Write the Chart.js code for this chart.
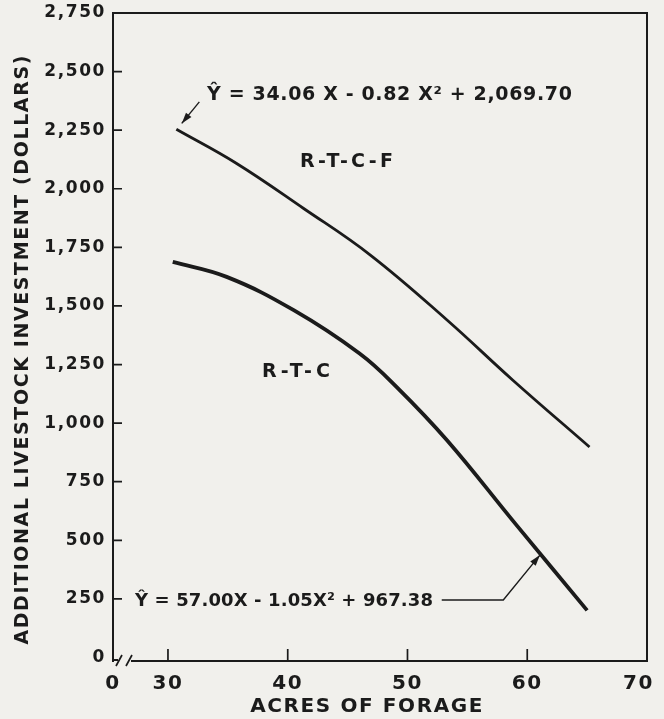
<!DOCTYPE html>
<html><head><meta charset="utf-8">
<script src="https://cdn.jsdelivr.net/npm/chart.js@4.4.1/dist/chart.umd.min.js"></script>
<style>html,body{margin:0;padding:0;background:#f1f0ec;overflow:hidden}canvas{display:block}</style>
</head><body>
<canvas id="c" width="664" height="719"></canvas>
<script>
// ---- data ----
const xTickValues = [30, 40, 50, 60, 70];
const xTickLabels = ["0", "30", "40", "50", "60", "70"];
const yTickValues = [0, 250, 500, 750, 1000, 1250, 1500, 1750, 2000, 2250, 2500, 2750];
const yTickLabels = ["0", "250", "500", "750", "1,000", "1,250", "1,500", "1,750", "2,000", "2,250", "2,500", "2,750"];
const rtcfAcres = [30.7, 35.7, 41.3, 46.9, 53.3, 58.8, 65.2];
const rtcfInvestment = [2254, 2109, 1917, 1717, 1440, 1183, 898];
const rtcAcres = [30.4, 34.9, 40.5, 46.0, 49.1, 53.3, 59.0, 65.0];
const rtcInvestment = [1688, 1624, 1482, 1297, 1154, 927, 571, 201];
const seriesNames = ["R-T-C-F", "R-T-C"];
const equations = ["Ŷ = 34.06 X - 0.82 X² + 2,069.70", "Ŷ = 57.00X - 1.05X² + 967.38"];
const xTitle = "ACRES OF FORAGE";
const yTitle = "ADDITIONAL LIVESTOCK INVESTMENT (DOLLARS)";

// ---- styling ----
const INK = '#1b1b1b';
const PAPER = '#f1f0ec';
const FONT = '"DejaVu Sans", sans-serif';

// annotation anchors in data units: x0..x1 = text span (acres), y = text centre (dollars)
const notes = {
  upperEq: {x0: 33.26, x1: 63.74, y: 2398, size: 19},
  upperLabel: {x0: 41.03, x1: 48.79, y: 2114, size: 19},
  lowerLabel: {x0: 37.85, x1: 43.53, y: 1218, size: 19},
  lowerEq: {x0: 27.25, x1: 52.13, y: 241, size: 18},
  upperArrow: [{x: 32.62, y: 2371}, {x: 31.15, y: 2279}],
  lowerArrow: [{x: 52.86, y: 245}, {x: 58.0, y: 245}, {x: 61.06, y: 437}]
};

const toPts = (xs, ys) => xs.map((v, i) => ({x: v, y: ys[i]}));

const paperPlugin = {
  id: 'paper',
  beforeDraw(chart) {
    const ctx = chart.ctx;
    ctx.save();
    ctx.fillStyle = PAPER;
    ctx.fillRect(0, 0, chart.width, chart.height);
    ctx.restore();
    ctx.letterSpacing = '1.6px';
  },
  beforeDatasetsDraw(chart) {
    const {ctx, chartArea: a, scales: {x, y}} = chart;
    ctx.letterSpacing = '0px';
    ctx.save();
    ctx.strokeStyle = INK;
    ctx.lineWidth = 2;
    ctx.lineCap = 'square';
    ctx.beginPath();
    ctx.moveTo(a.left, a.top); ctx.lineTo(a.right, a.top); ctx.lineTo(a.right, a.bottom);
    ctx.lineTo(a.left + 19, a.bottom);
    ctx.moveTo(a.left, a.bottom - 1); ctx.lineTo(a.left + 4, a.bottom - 1);
    ctx.stroke();
    ctx.lineCap = 'butt';
    ctx.lineWidth = 1.7;
    ctx.beginPath();
    ctx.moveTo(a.left + 3, a.bottom + 5); ctx.lineTo(a.left + 9, a.bottom - 6);
    ctx.moveTo(a.left + 13, a.bottom + 5); ctx.lineTo(a.left + 19, a.bottom - 6);
    yTickValues.forEach(v => {
      if (v > yTickValues[0] && v < y.max) {
        const py = y.getPixelForValue(v);
        ctx.moveTo(a.left, py); ctx.lineTo(a.left + 9, py);
      }
    });
    xTickValues.forEach(v => {
      if (v < x.max) {
        const px = x.getPixelForValue(v);
        ctx.moveTo(px, a.bottom); ctx.lineTo(px, a.bottom - 12);
      }
    });
    ctx.stroke();
    ctx.restore();
  },
  afterDatasetsDraw(chart) {
    const {ctx, scales: {x, y}} = chart;
    const P = p => [x.getPixelForValue(p.x), y.getPixelForValue(p.y)];
    ctx.save();
    ctx.fillStyle = INK;
    ctx.strokeStyle = INK;
    ctx.textBaseline = 'middle';
    ctx.textAlign = 'left';
    const text = (s, n) => {
      ctx.font = 'bold ' + n.size + 'px ' + FONT;
      ctx.letterSpacing = '0px';
      const x0 = x.getPixelForValue(n.x0), x1 = x.getPixelForValue(n.x1);
      const w = ctx.measureText(s).width;
      const chars = Array.from(s).length;
      const sp = Math.max(0, (x1 - x0 - w) / (chars - 1));
      ctx.letterSpacing = sp.toFixed(2) + 'px';
      ctx.fillText(s, x0, y.getPixelForValue(n.y));
    };
    text(equations[0], notes.upperEq);
    text(seriesNames[0], notes.upperLabel);
    text(seriesNames[1], notes.lowerLabel);
    text(equations[1], notes.lowerEq);
    ctx.letterSpacing = '0px';
    const arrow = (pts) => {
      const px = pts.map(P);
      ctx.lineWidth = 1.4;
      ctx.beginPath();
      ctx.moveTo(px[0][0], px[0][1]);
      for (let i = 1; i < px.length; i++) ctx.lineTo(px[i][0], px[i][1]);
      ctx.stroke();
      const [tx, ty] = px[px.length - 1];
      const [fx, fy] = px[px.length - 2];
      const ang = Math.atan2(ty - fy, tx - fx);
      const L = 11, W = 3.5;
      ctx.beginPath();
      ctx.moveTo(tx, ty);
      ctx.lineTo(tx - L * Math.cos(ang) + W * Math.sin(ang), ty - L * Math.sin(ang) - W * Math.cos(ang));
      ctx.lineTo(tx - L * Math.cos(ang) - W * Math.sin(ang), ty - L * Math.sin(ang) + W * Math.cos(ang));
      ctx.closePath();
      ctx.fill();
    };
    arrow(notes.upperArrow);
    arrow(notes.lowerArrow);
    ctx.restore();
  }
};

new Chart(document.getElementById('c'), {
  type: 'line',
  data: {
    datasets: [
      {label: seriesNames[0], data: toPts(rtcfAcres, rtcfInvestment), borderColor: INK, borderWidth: 2.8,
       pointRadius: 0, fill: false, tension: 0.4, borderCapStyle: 'butt'},
      {label: seriesNames[1], data: toPts(rtcAcres, rtcInvestment), borderColor: INK, borderWidth: 3.8,
       pointRadius: 0, fill: false, tension: 0.4, borderCapStyle: 'butt'}
    ]
  },
  options: {
    responsive: false,
    devicePixelRatio: 1,
    animation: false,
    events: [],
    layout: {padding: {top: 13, right: 17, left: 0, bottom: 0}},
    plugins: {legend: {display: false}, tooltip: {enabled: false}},
    scales: {
      x: {
        type: 'linear', min: 25.41, max: 70,
        grid: {display: false, drawTicks: false},
        border: {display: false},
        afterBuildTicks: s => { s.ticks = [s.min, ...xTickValues].map(v => ({value: v})); },
        afterFit: s => { s.height = 58; s.paddingLeft = 0; s.paddingRight = 0; },
        ticks: {autoSkip: false, maxRotation: 0, padding: 11, color: INK,
                font: {family: FONT, size: 20, weight: 'bold'},
                callback: (v, i) => i === xTickLabels.length - 1 ? xTickLabels[i] + '  ' : xTickLabels[i]},
        title: {display: true, text: xTitle + '   ', color: INK, font: {family: FONT, size: 20, weight: 'bold'},
                padding: {top: 0, bottom: 0}}
      },
      y: {
        type: 'linear', min: -15, max: 2750,
        grid: {display: false, drawTicks: false},
        border: {display: true, color: INK, width: 2},
        afterBuildTicks: s => { s.ticks = yTickValues.map(v => ({value: v})); },
        afterFit: s => { s.width = 113; s.paddingTop = 0; s.paddingBottom = 0; },
        ticks: {autoSkip: false, padding: 7, color: INK, font: {family: FONT, size: 17, weight: 'bold'},
                callback: (v, i) => yTickLabels[i]},
        title: {display: true, text: yTitle + '   ', color: INK, font: {family: FONT, size: 19, weight: 'bold'},
                padding: {top: 12, bottom: 0}}
      }
    }
  },
  plugins: [paperPlugin]
});
</script>
</body></html>
